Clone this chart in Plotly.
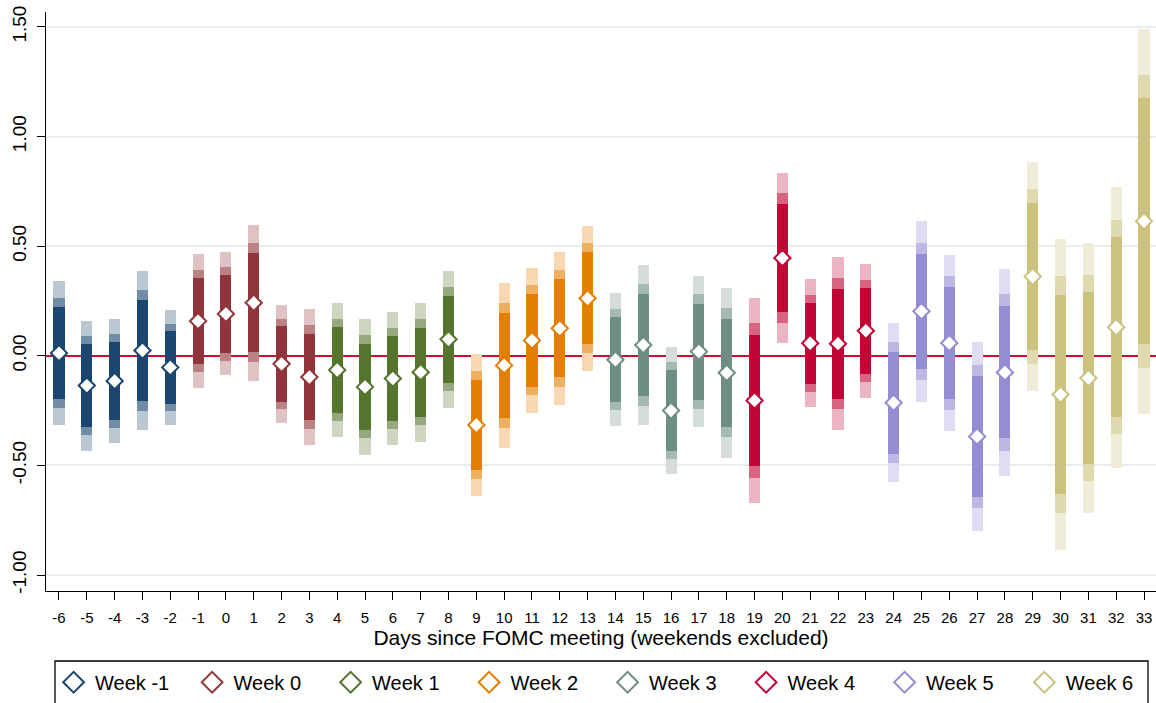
import plotly.graph_objects as go

# Trading days relative to the FOMC meeting (weekends excluded)
days = list(range(-6, 34))

# Week each day belongs to
weeks = ([-1] * 5 + [0] * 5 + [1] * 5 + [2] * 5 +
         [3] * 5 + [4] * 5 + [5] * 5 + [6] * 5)

# Point estimates
estimate = [
    0.012, -0.136, -0.115, 0.024, -0.053,
    0.158, 0.191, 0.242, -0.037, -0.097,
    -0.065, -0.142, -0.104, -0.075, 0.075,
    -0.316, -0.044, 0.070, 0.125, 0.262,
    -0.018, 0.049, -0.250, 0.019, -0.078,
    -0.204, 0.446, 0.057, 0.055, 0.114,
    -0.214, 0.203, 0.058, -0.368, -0.076,
    0.361, -0.177, -0.102, 0.130, 0.614,
]

# Standard errors
std_err = [
    0.128, 0.115, 0.109, 0.141, 0.102,
    0.119, 0.109, 0.138, 0.105, 0.120,
    0.118, 0.120, 0.117, 0.123, 0.121,
    0.126, 0.146, 0.128, 0.136, 0.128,
    0.118, 0.142, 0.113, 0.133, 0.150,
    0.181, 0.151, 0.113, 0.153, 0.119,
    0.141, 0.160, 0.156, 0.167, 0.183,
    0.203, 0.276, 0.239, 0.249, 0.341,
]

# Critical values for the 99%, 95% and 90% bands (drawn widest first)
z_levels = [2.576, 1.960, 1.645]
band_alpha = [0.30, 0.62, 1.00]

week_ids = [-1, 0, 1, 2, 3, 4, 5, 6]
week_names = ["Week -1", "Week 0", "Week 1", "Week 2",
              "Week 3", "Week 4", "Week 5", "Week 6"]
week_colors = ["#1a476f", "#90353b", "#55752f", "#e37e00",
               "#6e8e84", "#c10534", "#938dd2", "#cac27e"]


def tint(hex_color, alpha):
    r, g, b = (int(hex_color[i:i + 2], 16) for i in (1, 3, 5))
    mix = lambda c: round(255 - alpha * (255 - c))
    return f"rgb({mix(r)},{mix(g)},{mix(b)})"


color_of_week = dict(zip(week_ids, week_colors))
FONT = "Arial, 'Liberation Sans', sans-serif"

fig = go.Figure()

# Confidence bands as floating bars
for z, a in zip(z_levels, band_alpha):
    lo = [e - z * s for e, s in zip(estimate, std_err)]
    hi = [e + z * s for e, s in zip(estimate, std_err)]
    fig.add_trace(go.Bar(
        x=days, base=lo, y=[h - l for h, l in zip(hi, lo)],
        width=0.4,
        marker=dict(color=[tint(color_of_week[w], a) for w in weeks],
                    line=dict(width=0)),
        showlegend=False, hoverinfo="skip",
    ))

# Point estimates, one trace per week
for wid, col in zip(week_ids, week_colors):
    xs = [d for d, w in zip(days, weeks) if w == wid]
    ys = [e for e, w in zip(estimate, weeks) if w == wid]
    fig.add_trace(go.Scatter(
        x=xs, y=ys, mode="markers",
        marker=dict(symbol="diamond", size=12.5, color="white",
                    line=dict(color=col, width=2)),
        showlegend=False,
    ))

# Legend keys: first seven weeks in one row, the last week in its own box
for i, (name, col) in enumerate(zip(week_names, week_colors)):
    fig.add_trace(go.Scatter(
        x=[None], y=[None], mode="markers", name=name,
        legend="legend" if i < 7 else "legend2",
        marker=dict(symbol="diamond-open", size=16, color=col,
                    line=dict(color=col, width=2)),
    ))

legend_style = dict(
    orientation="h", xanchor="left", y=-0.124, yanchor="top",
    font=dict(size=20, family=FONT, color="black"),
    bgcolor="rgba(0,0,0,0)", borderwidth=0, itemwidth=33,
    itemclick=False, itemdoubleclick=False,
)

fig.update_layout(
    width=1156, height=703, autosize=False,
    margin=dict(l=46, r=0, t=12, b=112),
    paper_bgcolor="white", plot_bgcolor="white",
    barmode="overlay", bargap=0,
    font=dict(family=FONT, color="black"),
    showlegend=True,
    legend=dict(x=0.0055, entrywidth=90.5, entrywidthmode="pixels",
                **legend_style),
    legend2=dict(x=0.880, **legend_style),
    shapes=[dict(
        type="rect", xref="paper", yref="paper",
        x0=0.0081, x1=0.9928, y0=-0.1209, y1=-0.25,
        line=dict(color="black", width=1.3), fillcolor="rgba(0,0,0,0)",
        layer="above",
    )],
)

fig.update_xaxes(
    range=[-6.467, 33.43],
    tickmode="array", tickvals=days, ticktext=[str(d) for d in days],
    ticks="outside", ticklen=8, tickwidth=1.3, tickcolor="black",
    showline=True, linecolor="black", linewidth=1.3,
    showgrid=False, zeroline=False,
    tickfont=dict(size=15, family=FONT, color="black"),
    ticklabelstandoff=5,
    title=dict(text="Days since FOMC meeting (weekends excluded)",
               font=dict(size=21, family=FONT, color="black"), standoff=3),
)

fig.update_yaxes(
    range=[-1.073, 1.568],
    tickmode="array", tickvals=[-1, -0.5, 0, 0.5, 1, 1.5],
    ticktext=["-1.00", "-0.50", "0.00", "0.50", "1.00", "1.50"],
    tickangle=-90,
    ticks="outside", ticklen=8, tickwidth=1.3, tickcolor="black",
    showline=True, linecolor="black", linewidth=1.3,
    showgrid=True, gridcolor="#e6eef0", gridwidth=1.5,
    zeroline=True, zerolinecolor="#c8102e", zerolinewidth=2,
    tickfont=dict(size=19, family=FONT, color="black"),
    ticklabelstandoff=3,
)

fig.write_html("out.html")
